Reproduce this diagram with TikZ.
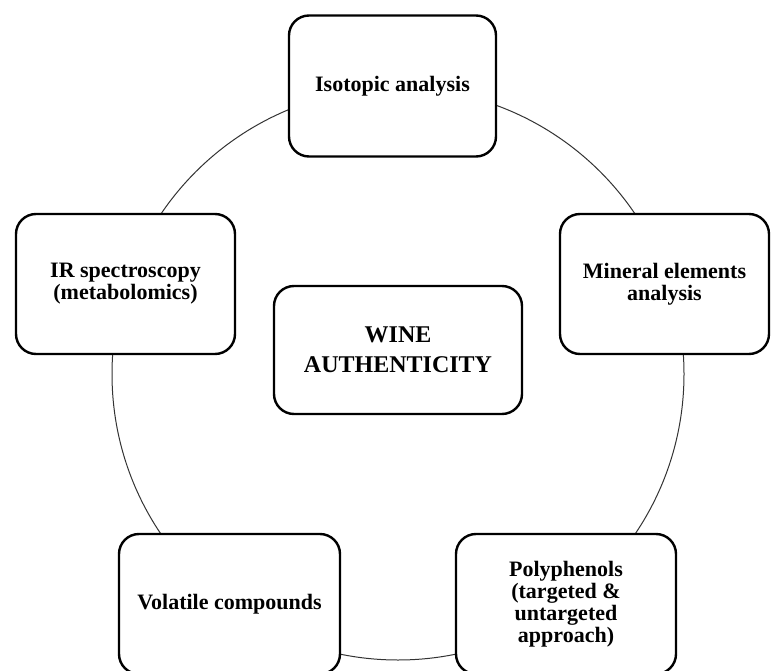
\documentclass[tikz,border=0pt]{standalone}
\usepackage{fontspec}
\setmainfont{Liberation Serif}
\begin{document}
\begin{tikzpicture}[x=1pt,y=-1pt,
  topic/.style={draw=black, fill=white, line width=2.4pt, rounded corners=20pt,
    align=center, inner sep=0pt, outer sep=0pt,
    font=\fontsize{22}{22}\selectfont\bfseries},
  ring/.style={draw=black!80, line width=1pt}]
\useasboundingbox (0,0) rectangle (771,671);
\clip (0,0) rectangle (771,671);
\fill[white] (0,0) rectangle (771,671);
\coordinate (c) at (398,374);
\draw[ring] (c) circle[radius=286];
\node[topic, minimum width=207pt, minimum height=141pt] (iso) at (392.5,86) {Isotopic analysis};
\node[topic, minimum width=209pt, minimum height=140pt] (min) at (664.5,284) {Mineral elements\\analysis};
\node[topic, minimum width=219pt, minimum height=140pt] (ir) at (125.5,284) {IR spectroscopy\\(metabolomics)};
\node[topic, minimum width=248pt, minimum height=128pt, font=\fontsize{24}{30}\selectfont\bfseries] (wa) at (398,350) {WINE\\AUTHENTICITY};
\node[topic, minimum width=221pt, minimum height=140pt] (vol) at (229.5,604) {Volatile compounds};
\node[topic, minimum width=220pt, minimum height=140pt] (poly) at (566,604) {Polyphenols\\(targeted \&\\untargeted\\approach)};
\end{tikzpicture}
\end{document}
